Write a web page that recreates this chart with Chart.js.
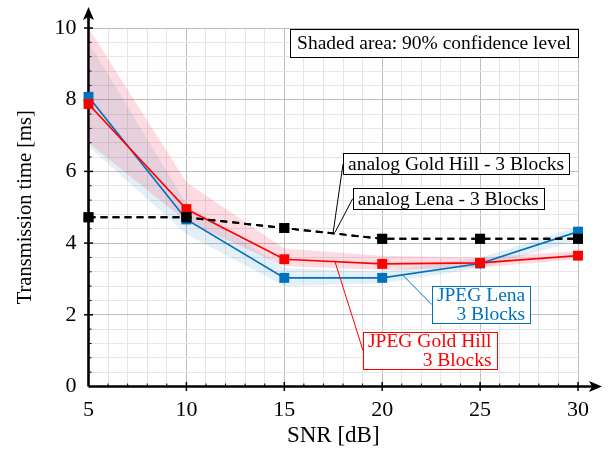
<!DOCTYPE html>
<html>
<head>
<meta charset="utf-8">
<script src="https://cdn.jsdelivr.net/npm/chart.js@4.4.1/dist/chart.umd.min.js"></script>
<style>
  html, body { margin: 0; padding: 0; background: #fff; }
  #wrap { width: 611px; height: 455px; }
</style>
</head>
<body>
<div id="wrap"><canvas id="chart" width="611" height="455"></canvas></div>
<script>
const snr = [5, 10, 15, 20, 25, 30];

const jpegLena = [8.08, 4.66, 3.03, 3.03, 3.43, 4.32];
const jpegLenaLow = [6.7, 4.25, 2.8, 2.88, 3.3, 4.08];
const jpegLenaHigh = [9.6, 5.1, 3.3, 3.2, 3.6, 4.46];

const jpegGold = [7.88, 4.95, 3.55, 3.42, 3.45, 3.65];
const jpegGoldLow = [6.8, 4.6, 3.36, 3.25, 3.32, 3.55];
const jpegGoldHigh = [10.0, 5.7, 3.85, 3.65, 3.6, 3.78];

const analogGold = [4.72, 4.72, 4.42, 4.12, 4.12, 4.12];
const analogLena = [4.72, 4.72, 4.42, 4.12, 4.12, 4.12];

const BLUE = '#0072bd';
const RED = '#ff0000';
const FONT = "'Liberation Serif', 'DejaVu Serif', serif";

const pts = arr => arr.map((v, i) => ({ x: snr[i], y: v }));

// label boxes in data units: box = corner (top-left, or top-right if side 'right'), anchor = point on curve
const notes = [
  { lines: ['Shaded area: 90% confidence level'], color: '#000', box: [30, 9.97], side: 'right', align: 'left', padX: 7, h: 28 },
  { lines: ['analog Gold Hill - 3 Blocks'], color: '#000', box: [18.0, 6.5], anchor: [17.49, 4.28], align: 'left', padX: 5, h: 21 },
  { lines: ['analog Lena - 3 Blocks'], color: '#000', box: [18.5, 5.54], anchor: [17.59, 4.3], align: 'left', padX: 5, h: 21 },
  { lines: ['JPEG Lena', '3 Blocks'], color: BLUE, box: [22.54, 2.8], anchor: [21.06, 3.1], align: 'right', padX: 5, h: 37 },
  { lines: ['JPEG Gold Hill', '3 Blocks'], color: RED, box: [19.02, 1.52], anchor: [17.59, 3.48], align: 'right', padX: 5, h: 37 }
];

const axesPlugin = {
  id: 'axes',
  beforeDatasetsDraw(chart) {
    const { ctx, scales: { x, y } } = chart;
    const x0 = x.getPixelForValue(5), y0 = y.getPixelForValue(0);
    const xEnd = x.getPixelForValue(30), yTop = y.getPixelForValue(10);
    ctx.save();
    ctx.strokeStyle = '#000';
    ctx.fillStyle = '#000';
    // minor / major ticks
    for (let v = 6; v <= 30; v++) {
      const px = x.getPixelForValue(v);
      ctx.beginPath();
      if (v % 5 === 0) { ctx.lineWidth = 1.5; ctx.moveTo(px, y0 - 4.5); ctx.lineTo(px, y0 + 4.5); }
      else { ctx.lineWidth = 1; ctx.moveTo(px, y0); ctx.lineTo(px, y0 - 3); }
      ctx.stroke();
    }
    for (let i = 1; i <= 25; i++) {
      const py = y.getPixelForValue(i * 0.4);
      ctx.beginPath();
      if (i % 5 === 0) { ctx.lineWidth = 1.5; ctx.moveTo(x0 - 4.5, py); ctx.lineTo(x0 + 4.5, py); }
      else { ctx.lineWidth = 1; ctx.moveTo(x0, py); ctx.lineTo(x0 + 3, py); }
      ctx.stroke();
    }
    // axis lines with arrows
    ctx.lineWidth = 2.6;
    ctx.beginPath();
    ctx.moveTo(x0, y0);
    ctx.lineTo(xEnd + 14, y0);
    ctx.moveTo(x0, y0);
    ctx.lineTo(x0, yTop - 12);
    ctx.stroke();
    const tipX = xEnd + 24, tipY = yTop - 21;
    ctx.beginPath();
    ctx.moveTo(tipX, y0);
    ctx.lineTo(tipX - 13, y0 - 5.5);
    ctx.lineTo(tipX - 10, y0);
    ctx.lineTo(tipX - 13, y0 + 5.5);
    ctx.closePath();
    ctx.fill();
    ctx.beginPath();
    ctx.moveTo(x0, tipY);
    ctx.lineTo(x0 - 5.5, tipY + 13);
    ctx.lineTo(x0, tipY + 10);
    ctx.lineTo(x0 + 5.5, tipY + 13);
    ctx.closePath();
    ctx.fill();
    ctx.restore();
  }
};

const notesPlugin = {
  id: 'notes',
  afterDatasetsDraw(chart) {
    const { ctx, scales: { x, y } } = chart;
    ctx.save();
    ctx.font = '19.5px ' + FONT;
    ctx.textBaseline = 'middle';
    notes.forEach(n => {
      const w = Math.max(...n.lines.map(l => ctx.measureText(l).width)) + n.padX * 2;
      const h = n.h;
      let bx = x.getPixelForValue(n.box[0]);
      if (n.side === 'right') bx -= w;
      const by = y.getPixelForValue(n.box[1]);
      ctx.strokeStyle = n.color;
      ctx.lineWidth = 1;
      if (n.anchor) {
        ctx.beginPath();
        ctx.moveTo(x.getPixelForValue(n.anchor[0]), y.getPixelForValue(n.anchor[1]));
        ctx.lineTo(bx, by + h / 2);
        ctx.stroke();
      }
      ctx.fillStyle = '#fff';
      ctx.fillRect(bx, by, w, h);
      ctx.strokeRect(Math.round(bx) + 0.5, Math.round(by) + 0.5, Math.round(w), Math.round(h));
      ctx.fillStyle = n.color;
      const lineH = h / n.lines.length;
      n.lines.forEach((l, i) => {
        const ty = by + lineH * (i + 0.5) + 1;
        if (n.align === 'right') {
          ctx.textAlign = 'right';
          ctx.fillText(l, bx + w - n.padX, ty);
        } else {
          ctx.textAlign = 'left';
          ctx.fillText(l, bx + n.padX, ty);
        }
      });
    });
    ctx.restore();
  }
};

function band(data, color, fill) {
  return {
    data: pts(data), borderWidth: 0, borderColor: 'transparent', pointRadius: 0,
    backgroundColor: color, fill: fill, order: 10, tension: 0
  };
}

function curve(data, color, dash) {
  return {
    data: pts(data), borderColor: color, backgroundColor: color,
    borderWidth: dash ? 2 : 1.7, borderDash: dash || [],
    pointStyle: 'rect', pointRadius: 7, pointBorderWidth: 0,
    pointBackgroundColor: color, fill: false, order: 1, tension: 0, clip: false
  };
}

const isMult = (v, s) => Math.abs(v / s - Math.round(v / s)) < 1e-6;

const chart = new Chart(document.getElementById('chart').getContext('2d'), {
  type: 'line',
  data: {
    datasets: [
      band(jpegGoldHigh, 'rgba(235, 20, 60, 0.15)', '+1'),
      band(jpegGoldLow, 'rgba(235, 20, 60, 0.15)', false),
      band(jpegLenaHigh, 'rgba(0, 114, 189, 0.11)', '+1'),
      band(jpegLenaLow, 'rgba(0, 114, 189, 0.11)', false),
      curve(analogLena, '#000', [7, 5]),
      curve(analogGold, '#000', [7, 5]),
      curve(jpegGold, RED),
      curve(jpegLena, BLUE)
    ]
  },
  options: {
    responsive: false,
    animation: false,
    layout: { padding: { top: 28, right: 33, left: 0, bottom: 0 } },
    plugins: { legend: { display: false }, tooltip: { enabled: false } },
    scales: {
      x: {
        type: 'linear', min: 5, max: 30,
        afterFit: s => { s.height = 68.5; },
        border: { display: false },
        grid: {
          drawTicks: false,
          color: c => isMult(c.tick.value, 5) ? '#bdbdbd' : '#e6e6e6',
          lineWidth: 1
        },
        ticks: {
          stepSize: 1, autoSkip: false, maxRotation: 0, padding: 11,
          color: '#000', font: { family: FONT, size: 22 },
          callback: v => isMult(v, 5) ? v : ''
        },
        title: {
          display: true, text: 'SNR [dB]', color: '#000',
          font: { family: FONT, size: 23 }, padding: { top: 2, bottom: 5 }
        }
      },
      y: {
        type: 'linear', min: 0, max: 10,
        afterFit: s => { s.width = 88.5; },
        border: { display: false },
        grid: {
          drawTicks: false,
          color: c => isMult(c.tick.value, 2) ? '#bdbdbd' : '#e6e6e6',
          lineWidth: 1
        },
        ticks: {
          stepSize: 0.4, autoSkip: false, padding: 12,
          color: '#000', font: { family: FONT, size: 22 },
          callback: v => isMult(v, 2) ? Math.round(v) : ''
        },
        title: {
          display: true, text: 'Transmission time [ms]', color: '#000',
          font: { family: FONT, size: 20.5 }, padding: { top: 13, bottom: 4 }
        }
      }
    }
  },
  plugins: [axesPlugin, notesPlugin]
});
</script>
</body>
</html>
